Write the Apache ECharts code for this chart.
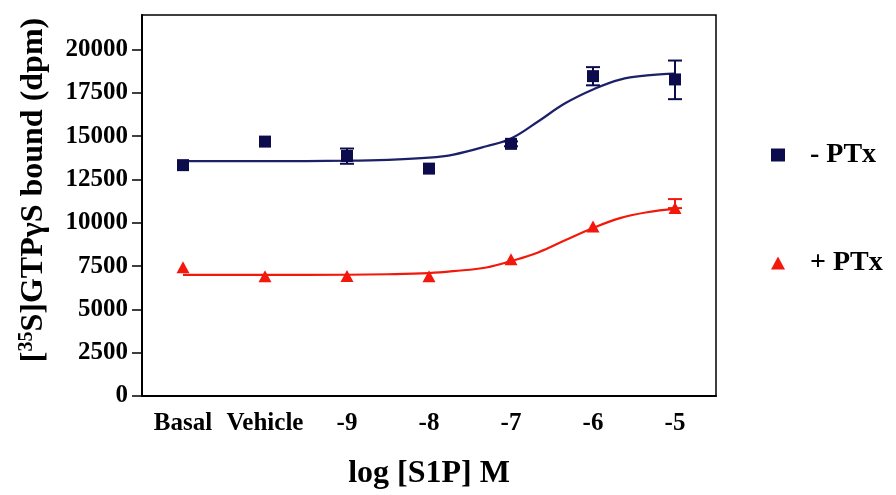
<!DOCTYPE html>
<html>
<head>
<meta charset="utf-8">
<script src="https://cdn.jsdelivr.net/npm/echarts@6/dist/echarts.min.js"></script>
<style>
html,body{margin:0;padding:0;background:#fff;}
#chart{width:896px;height:495px;}
</style>
</head>
<body>
<div id="chart"></div>
<script>
// ---- data ----
const categories = ['Basal', 'Vehicle', '-9', '-8', '-7', '-6', '-5'];
const yTicks = [0, 2500, 5000, 7500, 10000, 12500, 15000, 17500, 20000];

const minusPTx = [13330, 14690, 13860, 13130, 14560, 18470, 18280];
const minusErrLow = [null, null, 13410, null, 14420, 17940, 17140];
const minusErrHigh = [null, null, 14290, null, 14700, 18990, 19370];

const plusPTx = [7430, 6910, 6930, 6910, 7890, 9790, 10850];
const plusErrLow = [null, null, null, null, null, null, 10850];
const plusErrHigh = [null, null, null, null, null, null, 11370];

// fitted curves (x in category-index units)
const curveX = [0, 1, 2, 2.5, 3, 3.3, 3.7, 4, 4.33, 4.66, 5, 5.33, 5.66, 6];
const minusCurve = [13560, 13560, 13590, 13640, 13760, 13940, 14420, 14870, 15850, 16900, 17700, 18270, 18510, 18610];
const plusCurve = [6990, 6990, 7000, 7030, 7100, 7210, 7420, 7790, 8290, 8990, 9700, 10270, 10610, 10800];

const BLUE = '#0c0c4c';
const BLUE_LINE = '#1c2068';
const RED = '#f2180c';
const FONT = 'Liberation Serif';

function pairs(xs, ys) { return xs.map((x, i) => [x, ys[i]]); }
function errData(lo, hi) {
  const out = [];
  lo.forEach((l, i) => { if (l != null) out.push([i, l, hi[i]]); });
  return out;
}
function errRender(color) {
  return function (params, api) {
    const x = api.value(0);
    const lo = api.coord([x, api.value(1)]);
    const hi = api.coord([x, api.value(2)]);
    const w = 7;
    const st = { stroke: color, lineWidth: 2 };
    return {
      type: 'group',
      children: [
        { type: 'line', shape: { x1: lo[0], y1: lo[1], x2: hi[0], y2: hi[1] }, style: st },
        { type: 'line', shape: { x1: hi[0] - w, y1: hi[1], x2: hi[0] + w, y2: hi[1] }, style: st },
        { type: 'line', shape: { x1: lo[0] - w, y1: lo[1], x2: lo[0] + w, y2: lo[1] }, style: st }
      ]
    };
  };
}

const chart = echarts.init(document.getElementById('chart'));
chart.setOption({
  backgroundColor: '#ffffff',
  animation: false,
  grid: { left: 142, right: 180, top: 15, bottom: 96, show: true, borderColor: '#000', borderWidth: 1.5, containLabel: false },
  legend: {
    orient: 'vertical',
    left: 766,
    top: 135,
    itemGap: 78,
    itemWidth: 14,
    itemHeight: 13,
    data: [
      { name: '- PTx', icon: 'rect' },
      { name: '+ PTx', icon: 'triangle' }
    ],
    textStyle: { fontFamily: FONT, fontWeight: 'bold', fontSize: 28, lineHeight: 30, color: '#000', padding: [0, 0, 0, 20] }
  },
  xAxis: [
    {
      type: 'category',
      data: categories,
      boundaryGap: true,
      axisLine: { onZero: false, lineStyle: { color: '#000', width: 2 } },
      axisTick: { alignWithLabel: true, length: 10, lineStyle: { color: '#000', width: 1.5 } },
      axisLabel: { color: '#000', fontFamily: FONT, fontWeight: 'bold', fontSize: 25, margin: 15, interval: 0 },
      name: 'log [S1P] M',
      nameLocation: 'middle',
      nameGap: 62,
      nameTextStyle: { color: '#000', fontFamily: FONT, fontWeight: 'bold', fontSize: 32 }
    },
    { type: 'value', min: -0.5, max: 6.5, show: false }
  ],
  yAxis: {
    type: 'value',
    min: 0,
    max: 22000,
    interval: 2500,
    splitLine: { show: false },
    axisLine: { show: true, onZero: false, lineStyle: { color: '#000', width: 2 } },
    axisTick: { show: true, length: 10, lineStyle: { color: '#000', width: 1.5 }, customValues: yTicks },
    axisLabel: {
      color: '#000', fontFamily: FONT, fontWeight: 'bold', fontSize: 25, margin: 14, customValues: yTicks,
      formatter: function (v) { return String(v); }
    }
  },
  graphic: [
    {
      type: 'text',
      x: 34,
      y: 190,
      rotation: Math.PI / 2,
      style: {
        text: '{b|[}{s|35}{b|S]GTPγS bound (dpm)}',
        align: 'center',
        verticalAlign: 'middle',
        fill: '#000',
        font: 'bold 32px "Liberation Serif"',
        rich: {
          b: { fontFamily: FONT, fontWeight: 'bold', fontSize: 32, lineHeight: 34, fill: '#000' },
          s: { fontFamily: FONT, fontWeight: 'bold', fontSize: 20, lineHeight: 20, verticalAlign: 'top', fill: '#000' }
        }
      }
    }
  ],
  series: [
    {
      name: 'minusCurve', type: 'line', xAxisIndex: 1, data: pairs(curveX, minusCurve),
      smooth: 0.4, showSymbol: false, symbol: 'none', lineStyle: { color: BLUE_LINE, width: 2.2 }, silent: true, z: 2
    },
    {
      name: 'plusCurve', type: 'line', xAxisIndex: 1, data: pairs(curveX, plusCurve),
      smooth: 0.4, showSymbol: false, symbol: 'none', lineStyle: { color: RED, width: 2.2 }, silent: true, z: 2
    },
    {
      name: 'minusErr', type: 'custom', xAxisIndex: 0, data: errData(minusErrLow, minusErrHigh),
      renderItem: errRender(BLUE), encode: { x: 0, y: [1, 2] }, z: 3
    },
    {
      name: 'plusErr', type: 'custom', xAxisIndex: 0, data: errData(plusErrLow, plusErrHigh),
      renderItem: errRender(RED), encode: { x: 0, y: [1, 2] }, z: 3
    },
    {
      name: '- PTx', type: 'scatter', xAxisIndex: 0, data: minusPTx,
      symbol: 'rect', symbolSize: 12, itemStyle: { color: BLUE, opacity: 1 }, z: 4
    },
    {
      name: '+ PTx', type: 'scatter', xAxisIndex: 0, data: plusPTx,
      symbol: 'triangle', symbolSize: [13, 12], itemStyle: { color: RED, opacity: 1 }, z: 4
    }
  ]
});
</script>
</body>
</html>
